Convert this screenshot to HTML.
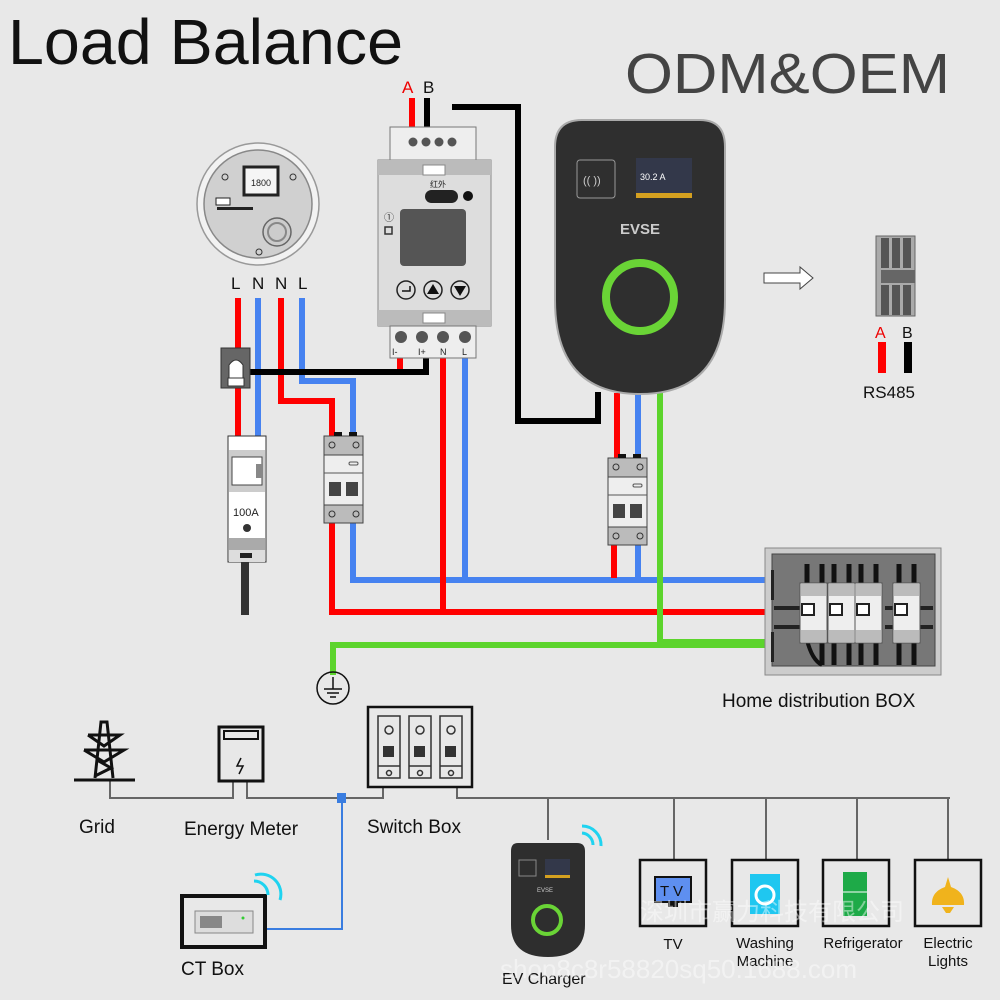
<!DOCTYPE html>
<html><head><meta charset="utf-8"><style>
html,body{margin:0;padding:0;background:#e8e8e8}
svg{display:block}
text{font-family:"Liberation Sans","Noto Sans CJK SC",sans-serif}
</style></head><body>
<svg width="1000" height="1000" viewBox="0 0 1000 1000" xmlns="http://www.w3.org/2000/svg">
<rect width="1000" height="1000" fill="#e8e8e8"/>
<text x="8" y="64" font-size="64" fill="#111" textLength="395" lengthAdjust="spacingAndGlyphs">Load Balance</text>
<text x="625" y="93" font-size="57" fill="#444" textLength="325" lengthAdjust="spacingAndGlyphs">ODM&amp;OEM</text>

<!-- meter circle -->
<circle cx="258" cy="204" r="61" fill="#f2f2f2" stroke="#999" stroke-width="1.5"/>
<circle cx="258" cy="204" r="54" fill="#d0d0d0" stroke="#888" stroke-width="1.5"/>
<rect x="244" y="167" width="34" height="28" fill="#f5f5f5" stroke="#222" stroke-width="3"/>
<text x="251" y="186" font-size="9" fill="#222">1800</text>
<rect x="216" y="198" width="14" height="7" fill="#fff" stroke="#222"/>
<rect x="217" y="207" width="36" height="3" fill="#222"/>
<circle cx="277" cy="232" r="14" fill="#ccc" stroke="#666" stroke-width="1.5"/>
<circle cx="277" cy="232" r="9" fill="none" stroke="#888" stroke-width="2"/>
<circle cx="225" cy="177" r="3" fill="none" stroke="#333"/><circle cx="293" cy="177" r="3" fill="none" stroke="#333"/><circle cx="259" cy="252" r="3" fill="none" stroke="#333"/>
<g font-size="17" fill="#111"><text x="231" y="289">L</text><text x="252" y="289">N</text><text x="275" y="289">N</text><text x="298" y="289">L</text></g>

<!-- wires -->
<g fill="none" stroke-width="6">
<path d="M238 298 V436" stroke="#f00"/>
<path d="M258 298 V436" stroke="#4682f0"/>
<path d="M281 298 V401 H332 V436" stroke="#f00"/>
<path d="M302 298 V381 H353 V436" stroke="#4682f0"/>
<path d="M332 523 V612 H765" stroke="#f00"/>
<path d="M353 523 V580 H765" stroke="#4682f0"/>
<path d="M443 358 V612" stroke="#f00"/>
<path d="M465 358 V580" stroke="#4682f0"/>
<path d="M400 358 V372" stroke="#f00"/>
<path d="M617 393 V458" stroke="#f00"/>
<path d="M638 393 V458" stroke="#4682f0"/>
<path d="M614 545 V578" stroke="#f00"/>
<path d="M638 545 V580" stroke="#4682f0"/>
<path d="M660 393 V642 H765" stroke="#5cd42c"/>
<path d="M333 675 V645 H765" stroke="#5cd42c"/>
<path d="M412 98 V127" stroke="#f00"/>
<path d="M427 98 V127" stroke="#000"/>
<path d="M452 107 H518 V421 H598 V392" stroke="#000"/>
<path d="M245 372 H426 V358" stroke="#000"/>
<path d="M245 562 V615" stroke="#333" stroke-width="8"/>
</g>
<text x="402" y="93" font-size="17" fill="#e00">A</text><text x="423" y="93" font-size="17" fill="#111">B</text>

<!-- CT clamp -->
<rect x="221" y="348" width="29" height="40" fill="#666" stroke="#333"/>
<path d="M229 385 V365 Q236 355 243 365 V385" fill="#fff" stroke="#333"/>
<rect x="228" y="378" width="16" height="8" fill="#fff" stroke="#333"/>

<!-- main breaker -->
<rect x="228" y="436" width="38" height="126" fill="#fff" stroke="#333"/>
<rect x="229" y="450" width="36" height="42" fill="#ccc"/>
<rect x="232" y="457" width="30" height="28" fill="#fff" stroke="#444"/>
<rect x="256" y="464" width="6" height="14" fill="#888"/>
<text x="233" y="516" font-size="11" fill="#222">100A</text>
<circle cx="247" cy="528" r="4" fill="#333"/>
<rect x="229" y="538" width="36" height="12" fill="#aaa"/>
<rect x="229" y="550" width="36" height="12" fill="#ddd"/>
<rect x="240" y="553" width="12" height="5" fill="#222"/>

<!-- RCBO template -->
<g id="rcbo1">
<rect x="324" y="436" width="39" height="87" fill="#eee" stroke="#444"/>
<rect x="324" y="436" width="39" height="19" fill="#bbb" stroke="#444"/>
<rect x="324" y="505" width="39" height="18" fill="#bbb" stroke="#444"/>
<rect x="334" y="432" width="8" height="4" fill="#111"/><rect x="349" y="432" width="8" height="4" fill="#111"/>
<circle cx="332" cy="445" r="3" fill="none" stroke="#333"/><circle cx="356" cy="445" r="3" fill="none" stroke="#333"/>
<circle cx="332" cy="514" r="3" fill="none" stroke="#333"/><circle cx="356" cy="514" r="3" fill="none" stroke="#333"/>
<rect x="349" y="462" width="9" height="3" rx="1.5" fill="none" stroke="#555"/>
<line x1="324" y1="473" x2="363" y2="473" stroke="#555"/>
<rect x="329" y="482" width="12" height="14" fill="#444"/><rect x="346" y="482" width="12" height="14" fill="#444"/>
</g>
<use href="#rcbo1" transform="translate(284 22)"/>

<!-- load meter device -->
<rect x="390" y="127" width="86" height="34" fill="#eee" stroke="#777"/>
<g fill="#555"><circle cx="413" cy="142" r="4.5"/><circle cx="426" cy="142" r="4.5"/><circle cx="439" cy="142" r="4.5"/><circle cx="452" cy="142" r="4.5"/></g>
<rect x="378" y="160" width="113" height="166" fill="#ddd" stroke="#888"/>
<rect x="378" y="160" width="113" height="15" fill="#bbb"/>
<rect x="378" y="310" width="113" height="16" fill="#bbb"/>
<rect x="423" y="165" width="22" height="10" fill="#fff" stroke="#888"/>
<rect x="423" y="313" width="22" height="10" fill="#fff" stroke="#888"/>
<text x="430" y="187" font-size="8" fill="#222">红外</text>
<rect x="425" y="190" width="33" height="13" rx="6.5" fill="#222"/>
<circle cx="468" cy="196" r="5" fill="#111"/>
<rect x="400" y="209" width="66" height="57" rx="4" fill="#555"/>
<text x="384" y="221" font-size="10" fill="#333">①</text>
<rect x="385" y="227" width="7" height="7" fill="none" stroke="#333" stroke-width="1.5"/>
<g fill="none" stroke="#222" stroke-width="1.5"><circle cx="406" cy="290" r="9"/><circle cx="433" cy="290" r="9"/><circle cx="460" cy="290" r="9"/></g>
<path d="M427 294 L433 284 L439 294Z M454 286 L466 286 L460 296Z" fill="#111"/>
<path d="M402 291 H410 V286" fill="none" stroke="#111" stroke-width="1.5"/>
<rect x="390" y="326" width="86" height="32" fill="#eee" stroke="#777"/>
<g fill="#555"><circle cx="401" cy="337" r="6"/><circle cx="422" cy="337" r="6"/><circle cx="443" cy="337" r="6"/><circle cx="465" cy="337" r="6"/></g>
<g font-size="9" fill="#222"><text x="392" y="355">I-</text><text x="418" y="355">I+</text><text x="440" y="355">N</text><text x="462" y="355">L</text></g>

<!-- EVSE -->
<path d="M582 120 H700 Q725 120 725 147 V300 Q725 394 640 394 Q555 394 555 300 V147 Q555 120 582 120Z" fill="#2f2f2f" stroke="#aaa" stroke-width="2"/>
<rect x="577" y="160" width="38" height="38" rx="3" fill="none" stroke="#999"/>
<text x="583" y="184" font-size="11" fill="#ccc">((  ))</text>
<rect x="636" y="158" width="56" height="40" fill="#33384a"/>
<rect x="636" y="193" width="56" height="5" fill="#d4a020"/>
<text x="640" y="180" font-size="9" fill="#fff">30.2 A</text>
<text x="620" y="234" font-size="15" fill="#ccc" font-weight="bold">EVSE</text>
<circle cx="640" cy="297" r="34" fill="none" stroke="#6ad436" stroke-width="8"/>

<!-- arrow & RS485 -->
<path d="M764 273 H800 V267 L813 278 L800 289 V283 H764Z" fill="#fff" stroke="#444"/>
<rect x="876" y="236" width="39" height="80" fill="#aaa" stroke="#666"/>
<g fill="#555"><rect x="881" y="238" width="8" height="30"/><rect x="892" y="238" width="8" height="30"/><rect x="903" y="238" width="8" height="30"/>
<rect x="881" y="285" width="8" height="30"/><rect x="892" y="285" width="8" height="30"/><rect x="903" y="285" width="8" height="30"/></g>
<rect x="881" y="270" width="34" height="13" fill="#666"/>
<text x="875" y="338" font-size="16" fill="#e00">A</text><text x="902" y="338" font-size="16" fill="#111">B</text>
<rect x="878" y="342" width="8" height="31" fill="#f00"/><rect x="904" y="342" width="8" height="31" fill="#000"/>
<text x="863" y="398" font-size="17" fill="#111">RS485</text>

<!-- home distribution box -->
<rect x="765" y="548" width="176" height="127" fill="#ccc" stroke="#888"/>
<rect x="772" y="554" width="163" height="112" fill="#777" stroke="#444"/>
<g stroke="#111" stroke-width="5"><line x1="807" y1="564" x2="807" y2="585"/><line x1="822" y1="564" x2="822" y2="585"/><line x1="834" y1="564" x2="834" y2="585"/><line x1="849" y1="564" x2="849" y2="585"/><line x1="861" y1="564" x2="861" y2="585"/><line x1="876" y1="564" x2="876" y2="585"/><line x1="899" y1="564" x2="899" y2="585"/><line x1="914" y1="564" x2="914" y2="585"/>
<line x1="822" y1="640" x2="822" y2="665"/><line x1="834" y1="640" x2="834" y2="665"/><line x1="849" y1="640" x2="849" y2="665"/><line x1="861" y1="640" x2="861" y2="665"/><line x1="876" y1="640" x2="876" y2="665"/><line x1="899" y1="640" x2="899" y2="665"/><line x1="914" y1="640" x2="914" y2="665"/></g>
<path d="M807 640 Q812 660 822 665" stroke="#111" stroke-width="4" fill="none"/>
<g fill="#222"><rect x="774" y="606" width="26" height="4"/><rect x="774" y="625" width="26" height="4"/><rect x="885" y="606" width="48" height="4"/><rect x="885" y="625" width="48" height="4"/><rect x="771" y="570" width="3" height="30"/><rect x="771" y="632" width="3" height="30"/></g>
<g fill="#eee" stroke="#555">
<rect x="800" y="583" width="27" height="60"/><rect x="828" y="583" width="27" height="60"/><rect x="855" y="583" width="27" height="60"/><rect x="893" y="583" width="27" height="60"/></g>
<g fill="#bbb"><rect x="801" y="584" width="25" height="12"/><rect x="829" y="584" width="25" height="12"/><rect x="856" y="584" width="25" height="12"/><rect x="894" y="584" width="25" height="12"/>
<rect x="801" y="630" width="25" height="12"/><rect x="829" y="630" width="25" height="12"/><rect x="856" y="630" width="25" height="12"/><rect x="894" y="630" width="25" height="12"/></g>
<g fill="#fff" stroke="#222" stroke-width="2"><rect x="802" y="604" width="12" height="11"/><rect x="830" y="604" width="12" height="11"/><rect x="857" y="604" width="12" height="11"/><rect x="895" y="604" width="12" height="11"/></g>
<text x="722" y="707" font-size="19" fill="#111">Home distribution BOX</text>

<!-- ground symbol -->
<circle cx="333" cy="688" r="16" fill="none" stroke="#111" stroke-width="1.5"/>
<g stroke="#111" stroke-width="1.5"><line x1="333" y1="677" x2="333" y2="689"/><line x1="324" y1="689" x2="342" y2="689"/><line x1="327" y1="693" x2="339" y2="693"/><line x1="330" y1="697" x2="336" y2="697"/></g>

<!-- bottom schematic -->
<g fill="none" stroke="#666" stroke-width="2">
<path d="M110 780 V798 H233 V782"/>
<path d="M247 782 V798 H383 V788"/>
<path d="M457 788 V798 H950"/>
<path d="M548 798 V840 M674 798 V860 M766 798 V860 M857 798 V860 M948 798 V860"/>
</g>
<path d="M342 798 V929 H267" fill="none" stroke="#3a7de0" stroke-width="2"/>
<rect x="337" y="793" width="9" height="10" fill="#3a7de0"/>
<!-- tower -->
<g fill="none" stroke="#111" stroke-width="3">
<line x1="74" y1="780" x2="135" y2="780"/>
<path d="M95 778 L101 722 H107 L113 778 M88 735 H120 L104 746 L88 735 M84 750 H124 L104 762 L84 750 M97 760 L111 768 L95 776"/>
</g>
<!-- energy meter -->
<rect x="219" y="727" width="44" height="54" fill="none" stroke="#111" stroke-width="3"/>
<rect x="224" y="731" width="34" height="8" fill="none" stroke="#111" stroke-width="2"/>
<path d="M241 758 L237 766 H243 L239 774" fill="none" stroke="#111" stroke-width="1.5"/>
<!-- switch box -->
<rect x="368" y="707" width="104" height="80" fill="none" stroke="#111" stroke-width="2.5"/>
<g fill="none" stroke="#333" stroke-width="1.5"><rect x="378" y="716" width="22" height="62"/><rect x="409" y="716" width="22" height="62"/><rect x="440" y="716" width="22" height="62"/>
<circle cx="389" cy="730" r="4"/><circle cx="420" cy="730" r="4"/><circle cx="451" cy="730" r="4"/>
<line x1="378" y1="766" x2="400" y2="766"/><line x1="409" y1="766" x2="431" y2="766"/><line x1="440" y1="766" x2="462" y2="766"/>
<circle cx="389" cy="773" r="2.5"/><circle cx="420" cy="773" r="2.5"/><circle cx="451" cy="773" r="2.5"/></g>
<g fill="#333"><rect x="383" y="746" width="11" height="11"/><rect x="414" y="746" width="11" height="11"/><rect x="445" y="746" width="11" height="11"/></g>
<!-- CT box -->
<rect x="182" y="896" width="83" height="51" fill="none" stroke="#111" stroke-width="4"/>
<rect x="195" y="911" width="58" height="22" fill="#ddd" stroke="#888"/>
<rect x="200" y="916" width="22" height="12" fill="#888"/>
<circle cx="243" cy="918" r="1.5" fill="#3c3"/>
<g fill="none" stroke="#1fd3f0" stroke-width="3"><path d="M254 881 A14 14 0 0 1 268 895"/><path d="M255 875 A20 20 0 0 1 280 900"/></g>
<!-- mini EV charger -->
<path d="M518 843 H577 Q585 843 585 851 V925 Q585 957 548 957 Q511 957 511 925 V851 Q511 843 518 843Z" fill="#2e2e2e"/>
<rect x="519" y="860" width="17" height="16" fill="none" stroke="#888"/>
<rect x="545" y="859" width="25" height="18" fill="#33384a"/><rect x="545" y="875" width="25" height="3" fill="#d4a020"/>
<text x="537" y="892" font-size="6" fill="#ccc">EVSE</text>
<circle cx="547" cy="920" r="14" fill="none" stroke="#6ad436" stroke-width="4"/>
<g fill="none" stroke="#1fd3f0" stroke-width="3"><path d="M582 833 A12 12 0 0 1 593 845"/><path d="M582 826 A19 19 0 0 1 601 846"/></g>
<!-- appliances -->
<g fill="none" stroke="#111" stroke-width="2.5"><rect x="640" y="860" width="66" height="66"/><rect x="732" y="860" width="66" height="66"/><rect x="823" y="860" width="66" height="66"/><rect x="915" y="860" width="66" height="66"/></g>
<rect x="655" y="877" width="36" height="25" fill="#5e8ff0" stroke="#111" stroke-width="2"/>
<text x="660" y="896" font-size="15" fill="#111">T V</text>
<rect x="668" y="902" width="10" height="5" fill="#111"/>
<rect x="750" y="874" width="30" height="40" fill="#1fc7f0"/>
<circle cx="765" cy="895" r="9" fill="none" stroke="#fff" stroke-width="3"/>
<rect x="843" y="872" width="24" height="44" fill="#1eaa48"/><line x1="843" y1="892" x2="867" y2="892" stroke="#fff"/>
<path d="M945 887 L948 877 L951 887 Q965 892 964 905 H932 Q931 892 945 887Z" fill="#f0b31c"/>
<path d="M942 907 H954 L950 913 H946Z" fill="#f0b31c"/>
<!-- labels -->
<g font-size="19" fill="#111">
<text x="79" y="833">Grid</text>
<text x="184" y="835">Energy Meter</text>
<text x="367" y="833">Switch Box</text>
<text x="181" y="975">CT Box</text>
<text x="502" y="984" font-size="16">EV Charger</text>
</g>
<g font-size="15" fill="#111" text-anchor="middle">
<text x="673" y="949">TV</text>
<text x="765" y="948">Washing</text><text x="765" y="966">Machine</text>
<text x="863" y="948">Refrigerator</text>
<text x="948" y="948">Electric</text><text x="948" y="966">Lights</text>
</g>
<!-- watermark -->
<g fill="#fff" fill-opacity="0.45">
<text x="640" y="920" font-size="24">深圳市赢力科技有限公司</text>
<text x="500" y="978" font-size="26">shop8c8r58820sq50.1688.com</text>
</g>
</svg>
</body></html>
